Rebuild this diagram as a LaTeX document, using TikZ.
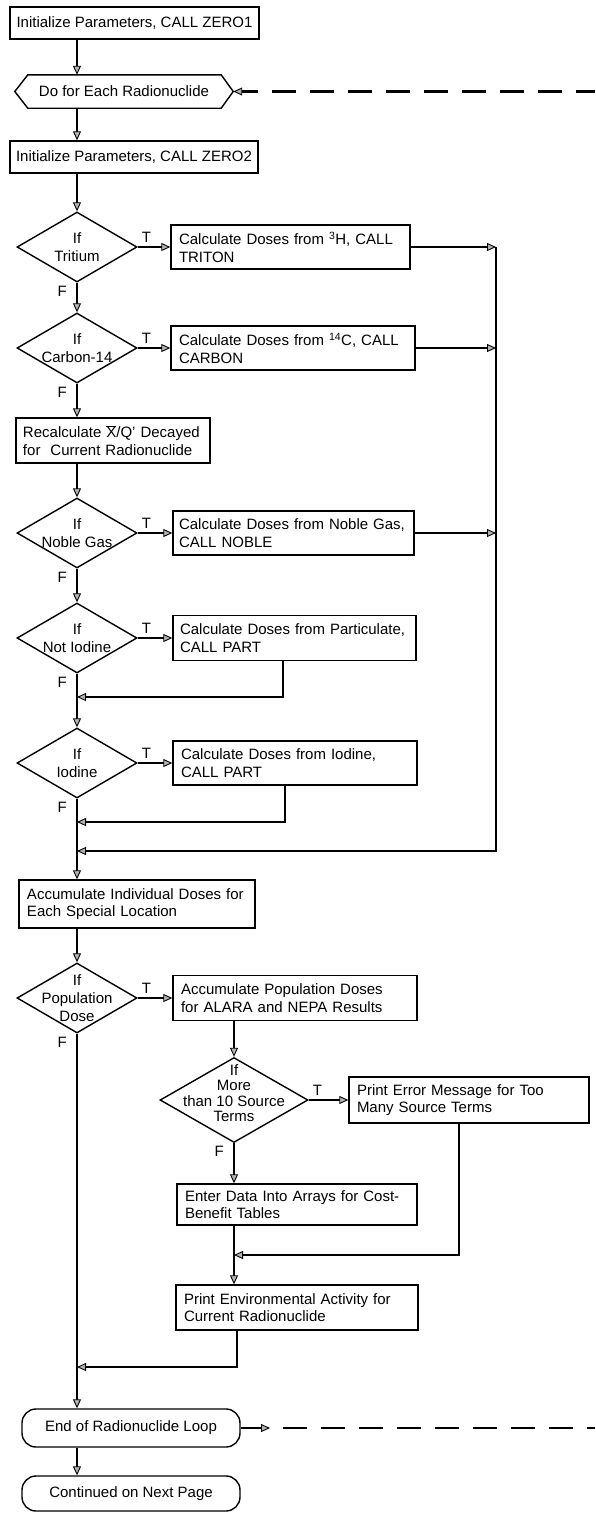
\documentclass[tikz,border=0pt]{standalone}
\usepackage{fontspec}
\setmainfont{Liberation Sans}
\usetikzlibrary{arrows.meta,calc,shapes.geometric}

\begin{document}
\begin{tikzpicture}[x=1pt,y=1pt,
  txt/.style={font=\fontsize{15}{17.7}\selectfont},
  box/.style={txt, draw, line width=1.4pt, align=left, inner xsep=8pt, inner ysep=0pt},
  cbox/.style={txt, draw, line width=1.4pt, align=center, inner sep=0pt},
  dia/.style={draw, diamond, line width=1.4pt, inner sep=0pt},
  dtxt/.style={txt, align=center, inner sep=0pt},
  term/.style={txt, draw, line width=1.4pt, rounded corners=14pt, inner sep=0pt, align=center},
  lab/.style={txt, inner sep=0pt},
  conn/.style={line width=2.3pt},
  arr/.style={conn, -{Triangle[length=9pt,width=8pt,fill=gray!60,line width=0.9pt]}},
  dashline/.style={line width=2.1pt, dash pattern=on 24pt off 14pt},
]
\useasboundingbox (0,0) rectangle (595,-1513);

% axes of the flow
\coordinate (ax) at (77,0);
\coordinate (rl) at (496,0);
\coordinate (sx) at (234,0);

% ---------- nodes ----------
\node[cbox, minimum width=249pt, minimum height=32pt] (b1) at (134.5,-23) {Initialize Parameters, CALL ZERO1};

\node[txt, minimum width=218pt, minimum height=33pt, inner sep=0pt] (hex) at (124,-91.5) {Do for Each Radionuclide};
\draw[line width=1.4pt] (hex.west) -- ([xshift=13pt]hex.north west) -- ([xshift=-12pt]hex.north east)
  -- (hex.east) -- ([xshift=-12pt]hex.south east) -- ([xshift=13pt]hex.south west) -- cycle;

\node[cbox, minimum width=248pt, minimum height=32pt] (b2) at (134,-157) {Initialize Parameters, CALL ZERO2};

\node[dia, minimum width=120pt, minimum height=70pt] (d1) at (77,-247) {};
\node[dtxt] (d1t) at (d1) {If\\Tritium};
\node[box, text width=223pt, minimum height=44pt] (t1) at (290.5,-247) {Calculate Doses from \textsuperscript{3}H, CALL\\TRITON};

\node[dia, minimum width=120pt, minimum height=70pt] (d2) at (77,-348) {};
\node[dtxt] (d2t) at (d2) {If\\Carbon-14};
\node[box, text width=228pt, minimum height=44pt] (t2) at (293,-348) {Calculate Doses from \textsuperscript{14}C, CALL\\CARBON};

\node[box, text width=180pt, inner xsep=7pt, minimum height=45pt] (b3) at (113,-440.5) {Recalculate \ensuremath{\overline{\mbox{X}}}/Q' Decayed\\for\ \ Current Radionuclide};

\node[dia, minimum width=120pt, minimum height=70pt] (d3) at (77,-533) {};
\node[dtxt] (d3t) at (d3) {If\\Noble Gas};
\node[box, text width=229pt, inner xsep=6pt, minimum height=44pt] (t3) at (293.5,-533) {\mbox{Calculate Doses from Noble Gas,}\\CALL NOBLE};

\node[dia, minimum width=120pt, minimum height=70pt] (d4) at (77,-638) {};
\node[dtxt] (d4t) at (d4) {If\\Not Iodine};
\node[box, text width=229pt, inner xsep=7pt, minimum height=45pt] (t4) at (294.5,-638) {\mbox{Calculate Doses from Particulate,}\\CALL PART};

\node[dia, minimum width=120pt, minimum height=70pt] (d5) at (77,-763) {};
\node[dtxt] (d5t) at (d5) {If\\Iodine};
\node[box, text width=228pt, minimum height=44pt] (t5) at (295,-763) {Calculate Doses from Iodine,\\CALL PART};

\node[box, text width=220pt, minimum height=48pt] (b4) at (137,-904) {Accumulate Individual Doses for\\Each Special Location};

\node[dia, minimum width=120pt, minimum height=70pt] (d6) at (77,-998) {};
\node[dtxt] (d6t) at (d6) {If\\Population\\Dose};
\node[box, text width=228pt, minimum height=45pt] (t6) at (295,-998) {Accumulate Population Doses\\for ALARA and NEPA Results};

\node[dia, minimum width=148pt, minimum height=85pt] (d7) at (234,-1100) {};
\node[dtxt, font=\fontsize{15}{15.5}\selectfont] (d7t) at ([yshift=7pt]d7.center) {If\\More\\than 10 Source\\Terms};
\node[box, text width=224pt, minimum height=46pt] (t7) at (469,-1100) {Print Error Message for Too\\Many Source Terms};

\node[box, text width=224pt, minimum height=41pt] (b5) at (297,-1204.5) {Enter Data Into Arrays for Cost-\\Benefit Tables};
\node[box, text width=226pt, minimum height=45pt] (b6) at (297,-1307.5) {Print Environmental Activity for\\Current Radionuclide};

\node[term, minimum width=218pt, minimum height=38pt] (e1) at (131,-1428) {End of Radionuclide Loop};
\node[term, minimum width=218pt, minimum height=35pt] (e2) at (131,-1493.5) {Continued on Next Page};

% ---------- main line ----------
\draw[arr] (b1.south -| ax) -- (hex.north -| ax);
\draw[arr] (hex.south -| ax) -- (b2.north -| ax);
\draw[arr] (b2.south -| ax) -- (d1.north);
\draw[arr] (d1.south) -- (d2.north);
\draw[arr] (d2.south) -- (b3.north -| ax);
\draw[arr] (b3.south -| ax) -- (d3.north);
\draw[arr] (d3.south) -- (d4.north);
\draw[arr] (d4.south) -- (d5.north);
\draw[arr] (d5.south) -- (b4.north -| ax);
\draw[arr] (b4.south -| ax) -- (d6.north);
\draw[arr] (d6.south) -- (e1.north -| ax);
\draw[arr] (e1.south -| ax) -- (e2.north -| ax);

% ---------- true branches ----------
\foreach \dd/\bb in {d1/t1,d2/t2,d3/t3,d4/t4,d5/t5,d6/t6,d7/t7}{
  \draw[arr] (\dd.east) -- (\bb.west);
  \node[lab, anchor=south west] (\dd-T) at ([xshift=4pt,yshift=4pt]\dd.east) {T};
  \node[lab, anchor=north east] (\dd-F) at ([xshift=-10pt,yshift=-3pt]\dd.south) {F};
}

% collector on the right
\coordinate (m3) at (77,-851);
\draw[arr] (t1.east) -- (t1.east -| rl);
\draw[arr] (t2.east) -- (t2.east -| rl);
\draw[arr] (t3.east) -- (t3.east -| rl);
\draw[arr] (t1.east -| rl) -- (rl |- m3) -- (m3);

% returns from particulate and iodine
\coordinate (r4) at (283,-697);
\draw[arr] (t4.south -| r4) -- (r4) -- (r4 -| ax);
\coordinate (r5) at (285,-822);
\draw[arr] (t5.south -| r5) -- (r5) -- (r5 -| ax);

% population branch
\draw[arr] (t6.south -| sx) -- (d7.north);
\draw[arr] (d7.south) -- (b5.north -| sx);
\draw[arr] (b5.south -| sx) -- (b6.north -| sx);
\coordinate (r7) at (459,-1255);
\draw[arr] (t7.south -| r7) -- (r7) -- (r7 -| sx);
\coordinate (r6) at (237,-1367);
\draw[arr] (b6.south -| r6) -- (r6) -- (r6 -| ax);

% loop back (dashed)
\coordinate (lt) at (258,-91.5);
\coordinate (lt2) at (272,-91.5);
\coordinate (le) at (595,-91.5);
\draw[arr] (lt) -- (hex.east);
\draw[dashline] (lt2) -- (le);

\coordinate (lb) at (270,-1428);
\coordinate (lb2) at (283,-1428);
\coordinate (lbe) at (595,-1428);
\draw[arr] (e1.east) -- (lb);
\draw[dashline] (lb2) -- (lbe);
\end{tikzpicture}
\end{document}
